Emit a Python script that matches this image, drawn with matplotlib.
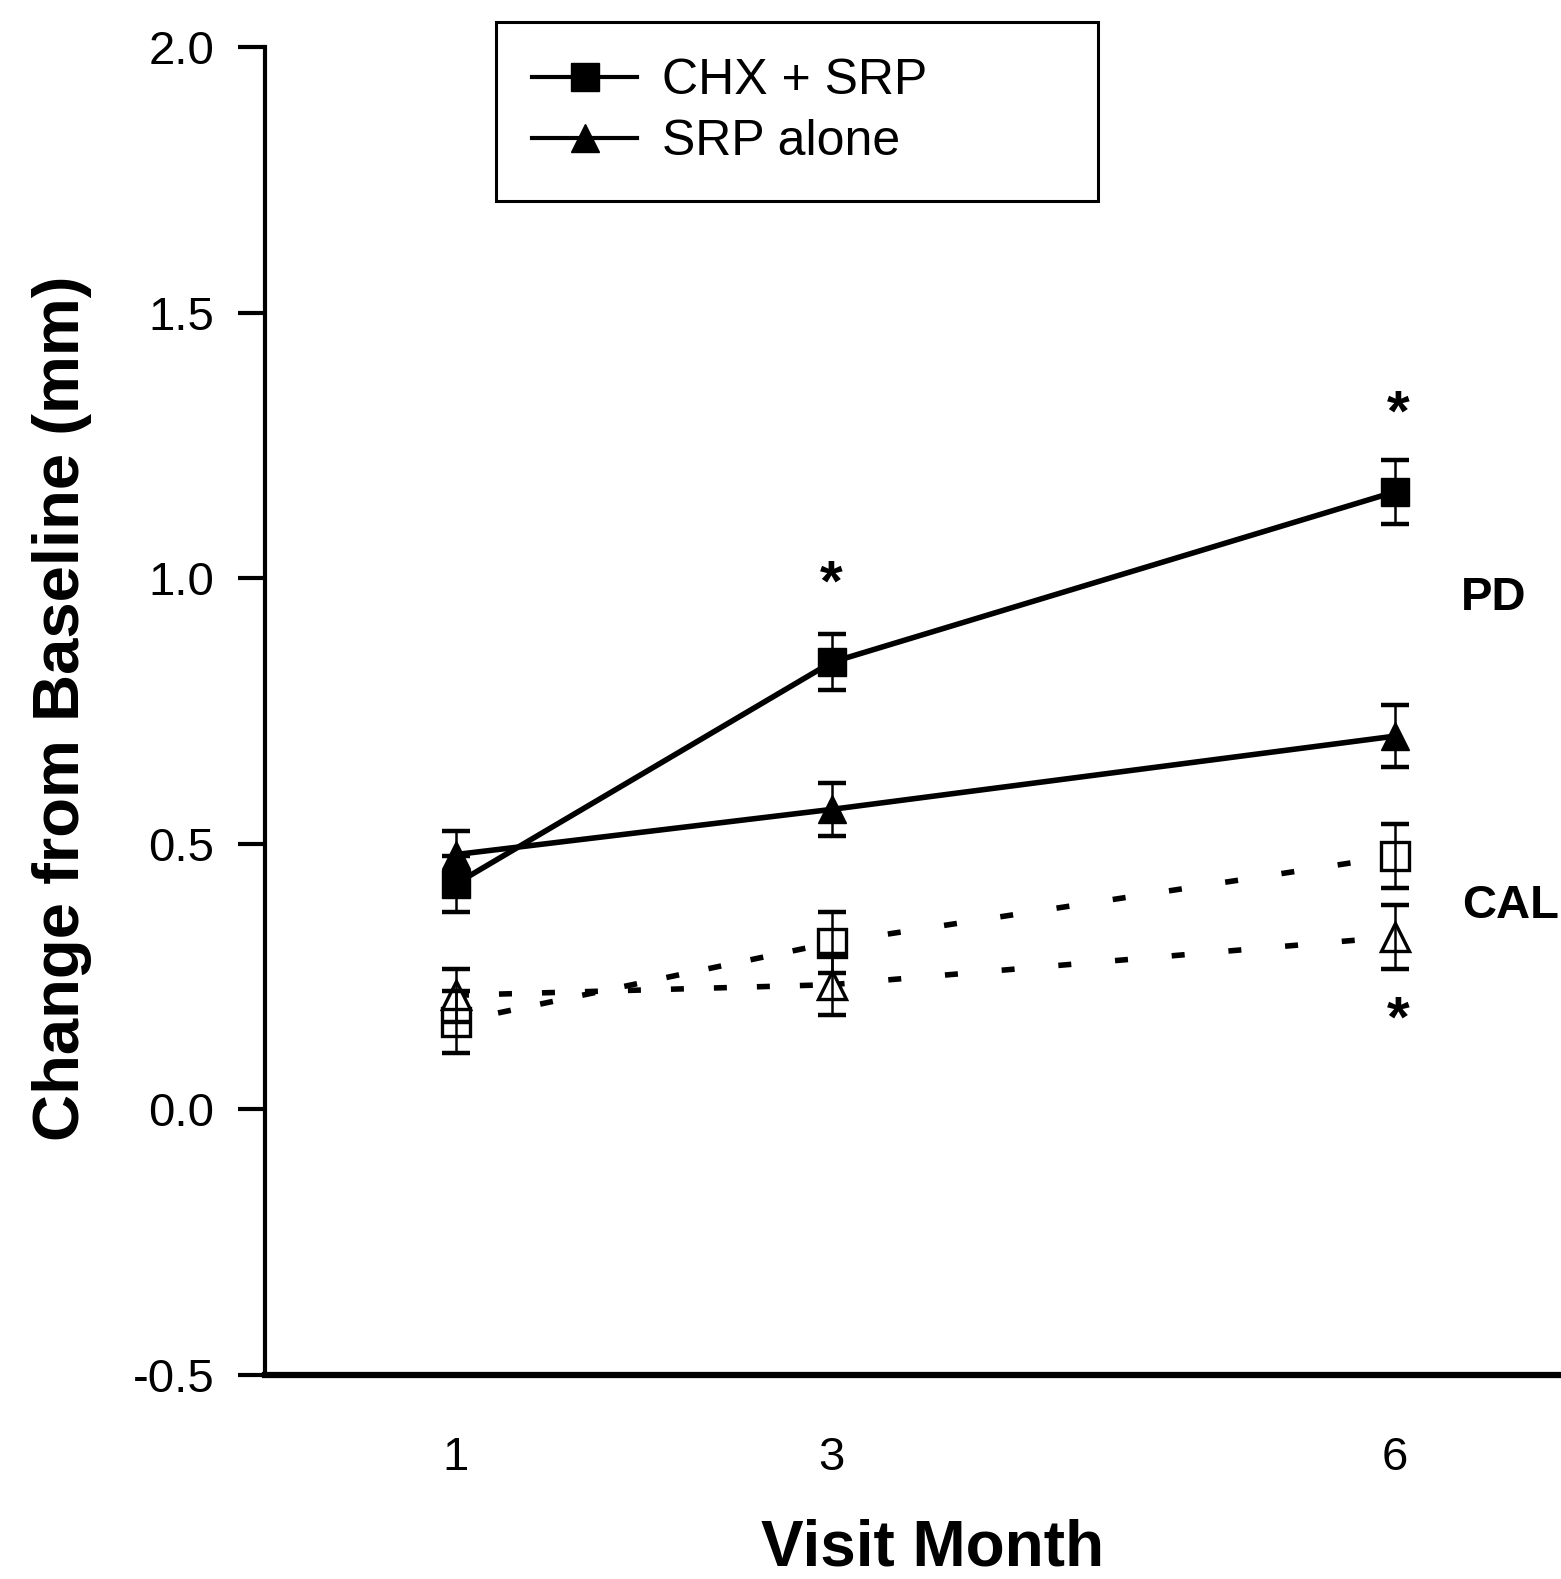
import matplotlib
matplotlib.use('Agg')
import matplotlib.pyplot as plt
from matplotlib.lines import Line2D
from matplotlib.font_manager import FontProperties

plt.rcParams['font.family'] = ['Liberation Sans', 'DejaVu Sans']

# ---------------- data ----------------
months = [1, 3, 6]
month_labels = ['1', '3', '6']

pd_chx = [0.425, 0.842, 1.163]
pd_chx_err = [0.053, 0.053, 0.060]
pd_srp = [0.480, 0.565, 0.703]
pd_srp_err = [0.045, 0.050, 0.058]

cal_chx = [0.165, 0.314, 0.477]
cal_chx_err = [0.058, 0.057, 0.060]
cal_srp = [0.215, 0.235, 0.325]
cal_srp_err = [0.050, 0.058, 0.060]

series_labels = ['CHX + SRP', 'SRP alone']
group_labels = ['PD', 'CAL']

yticks = [-0.5, 0.0, 0.5, 1.0, 1.5, 2.0]
ytick_labels = ['-0.5', '0.0', '0.5', '1.0', '1.5', '2.0']

star_x = [3.0, 6.02, 6.02]
star_y = [1.01, 1.33, 0.19]

# ---------------- figure ----------------
W, H = 1561, 1579
fig = plt.figure(figsize=(W / 100, H / 100), dpi=100)
ax = fig.add_axes([265 / W, 1 - 1375 / H, (W - 265) / W, (1375 - 47.3) / H])
ax.set_xlim(-0.017, 6.884)
ax.set_ylim(-0.5, 2.0)

for s in ['top', 'right']:
    ax.spines[s].set_visible(False)
ax.spines['left'].set_linewidth(3)
ax.spines['bottom'].set_linewidth(4.5)

ax.set_yticks(yticks)
ax.set_yticklabels(ytick_labels)
ax.set_xticks(months)
ax.set_xticklabels(month_labels)
ax.tick_params(axis='y', direction='out', length=19.5, width=3, pad=17, labelsize=34)
ax.tick_params(axis='x', length=0, pad=44, labelsize=34)

# PD (solid lines, filled markers)
for vals, errs, mk in [(pd_chx, pd_chx_err, 's'), (pd_srp, pd_srp_err, '^')]:
    ax.plot(months, vals, '-', color='k', lw=4, zorder=2, solid_capstyle='butt')
    ax.errorbar(months, vals, yerr=errs, fmt='none', ecolor='k', elinewidth=1.8,
                capsize=10, capthick=3.2, zorder=3)
    ax.plot(months, vals, mk, color='k', ms=20, zorder=4, clip_on=False)

# CAL (dotted lines, open markers)
seg_dashes = [(2.34, 5.4), (2.34, 7.9)]
for vals, errs, mk in [(cal_chx, cal_chx_err, 's'), (cal_srp, cal_srp_err, '^')]:
    for i in range(len(months) - 1):
        ax.plot(months[i:i + 2], vals[i:i + 2], color='k', lw=4,
                dashes=seg_dashes[i], dash_capstyle='butt', zorder=2)
    ax.plot(months, vals, mk, color='k', mfc='white', mec='k', mew=2.4,
            ms=20, zorder=3)
    ax.errorbar(months, vals, yerr=errs, fmt='none', ecolor='k', elinewidth=1.8,
                capsize=10, capthick=3.2, zorder=4)

# significance stars
for sx, sy in zip(star_x, star_y):
    ax.annotate('*', xy=(sx, sy), xytext=(0, -20), textcoords='offset points',
                ha='center', va='baseline', fontsize=42, fontweight='bold',
                annotation_clip=False)

# group labels
ax.text(6.35, 0.94, group_labels[0], fontsize=34, fontweight='bold',
        ha='left', va='baseline', clip_on=False)
ax.text(6.357, 0.36, group_labels[1], fontsize=34, fontweight='bold',
        ha='left', va='baseline', clip_on=False)

# axis titles
fig.text(62 / W, 1 - 708 / H, 'Change from Baseline (mm)', rotation=90,
         ha='center', va='center', fontsize=47, fontweight='bold')
fig.text(933 / W, 1 - 1565 / H, 'Visit Month', ha='center', va='baseline',
         fontsize=46, fontweight='bold')

# legend
handles = [Line2D([], [], color='k', lw=3, marker='s', ms=20),
           Line2D([], [], color='k', lw=3, marker='^', ms=20)]
leg = fig.legend(handles, series_labels, loc='upper left',
                 bbox_to_anchor=(496 / W, 1 - 197 / H, 602 / W, 175 / H),
                 bbox_transform=fig.transFigure, mode='expand',
                 borderaxespad=0, borderpad=0.72, handlelength=2.1,
                 handletextpad=0.5, labelspacing=0.3, fancybox=False,
                 edgecolor='k', framealpha=1,
                 prop=FontProperties(family='Liberation Sans', size=36))
leg.get_frame().set_linewidth(2.2)

fig.savefig('out.png', dpi=100)
